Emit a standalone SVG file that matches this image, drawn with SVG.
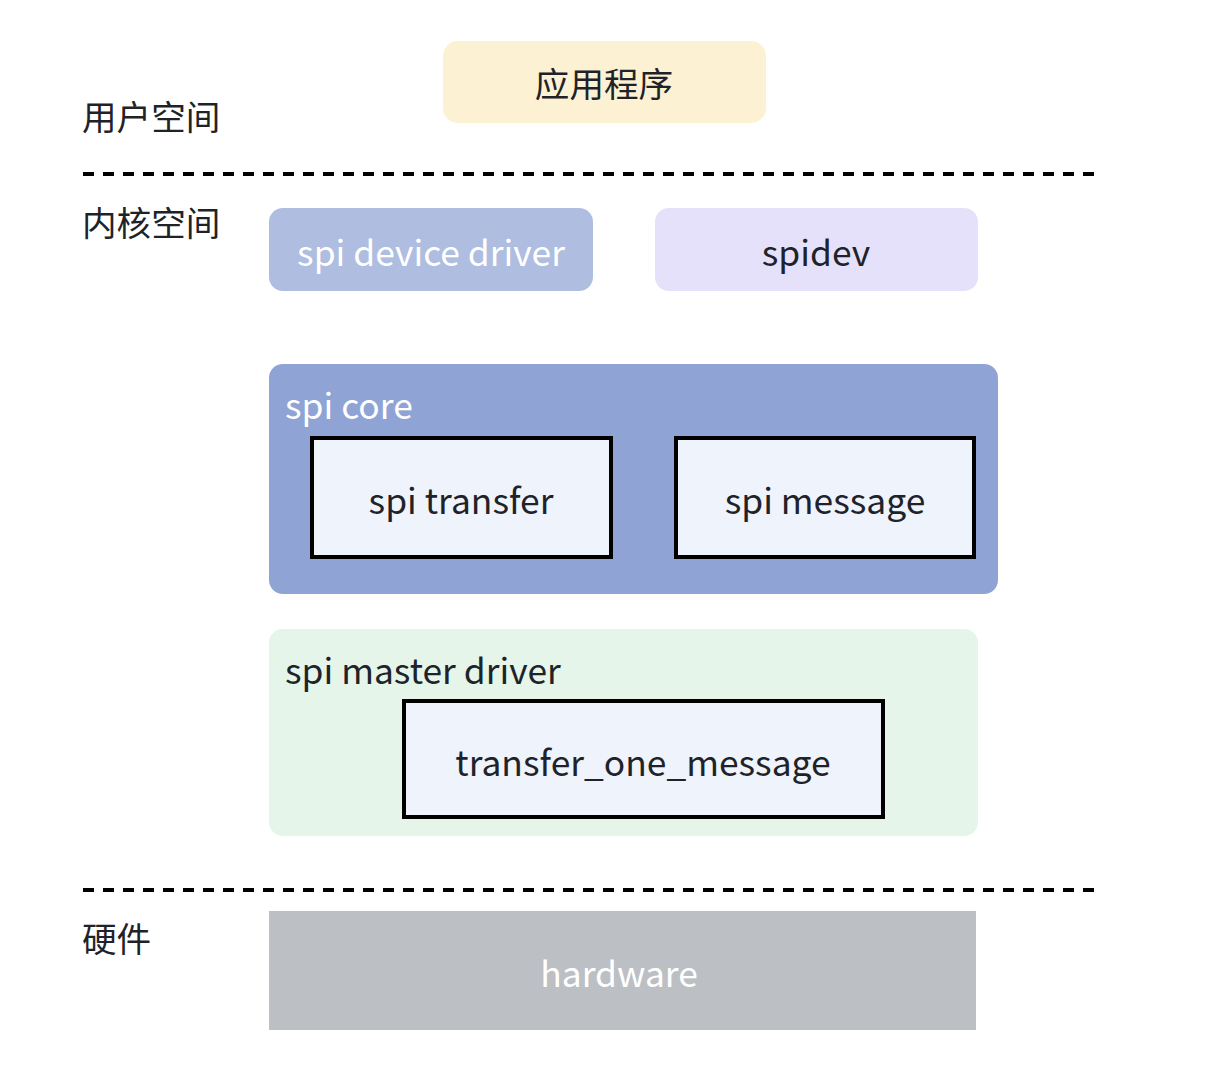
<svg xmlns="http://www.w3.org/2000/svg" width="1208" height="1076" viewBox="0 0 1208 1076">
<style>
text{font-family:"Noto Sans CJK SC","Noto Sans",sans-serif;font-size:35.4px;fill:#1f2329}
.zh{font-size:34.6px}
.c{text-anchor:middle;dominant-baseline:central}
.w{fill:#ffffff}
.inner{fill:#eff3fb;stroke:#000;stroke-width:4}
.dash{stroke:#000;stroke-width:4;stroke-dasharray:11 9;fill:none}
</style>
<rect width="1208" height="1076" fill="#ffffff"/>
<g id="connectors">
<line class="dash" x1="83" y1="174" x2="1100" y2="174"/>
<line class="dash" x1="83" y1="890" x2="1100" y2="890"/>
</g>
<g id="label-user"><text class="zh" x="82" y="130">用户空间</text></g>
<g id="label-kernel"><text class="zh" x="82" y="236">内核空间</text></g>
<g id="label-hw"><text class="zh" x="82" y="952">硬件</text></g>
<g id="app"><rect x="443" y="41" width="323" height="82" rx="15" fill="#fcf1d2"/><text class="c zh" x="604" y="82">应用程序</text></g>
<g id="spi-device-driver"><rect x="269" y="208" width="324" height="83" rx="14" fill="#aebde0"/><text class="c w" x="431" y="250">spi device driver</text></g>
<g id="spidev"><rect x="655" y="208" width="323" height="83" rx="14" fill="#e6e1fa"/><text class="c" x="816" y="250">spidev</text></g>
<g id="spi-core"><rect x="269" y="364" width="729" height="230" rx="14" fill="#8fa3d4"/><text class="w" x="285" y="419">spi core</text></g>
<g id="spi-transfer"><rect class="inner" x="312" y="438" width="299" height="119"/><text class="c" x="461" y="498">spi transfer</text></g>
<g id="spi-message"><rect class="inner" x="676" y="438" width="298" height="119"/><text class="c" x="825" y="498">spi message</text></g>
<g id="spi-master-driver"><rect x="269" y="629" width="709" height="207" rx="14" fill="#e5f5ea"/><text x="285" y="684">spi master driver</text></g>
<g id="transfer-one-message"><rect class="inner" x="404" y="701" width="479" height="116"/><text class="c" x="643" y="760">transfer_one_message</text></g>
<g id="hardware"><rect x="269" y="911" width="707" height="119" fill="#bcbfc4"/><text class="c w" x="619" y="971">hardware</text></g>
</svg>
